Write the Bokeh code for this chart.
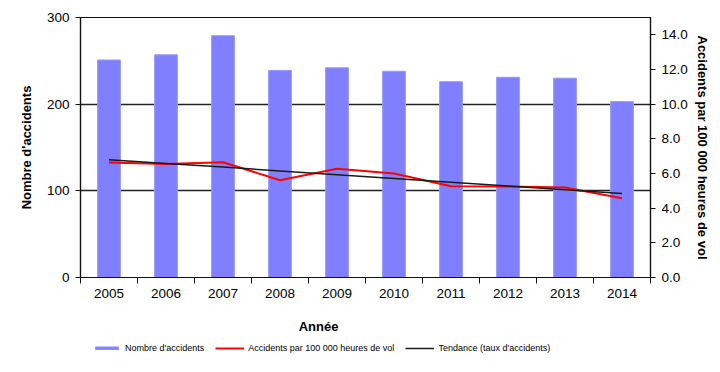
from bokeh.plotting import figure
from bokeh.layouts import column
from bokeh.models import (Range1d, LinearAxis, FixedTicker, NumeralTickFormatter,
                          Legend, LegendItem, Label, ColumnDataSource)
from bokeh.embed import file_html
from bokeh.resources import INLINE

years = [2005, 2006, 2007, 2008, 2009, 2010, 2011, 2012, 2013, 2014]
accidents = [251, 257, 279, 239, 242, 238, 226, 231, 230, 203]
rate = [6.63, 6.55, 6.65, 5.61, 6.27, 6.00, 5.27, 5.25, 5.19, 4.57]
trend = [6.80, 6.58, 6.37, 6.15, 5.93, 5.71, 5.49, 5.28, 5.06, 4.84]

left_ticks = [0, 100, 200, 300]
right_ticks = [0, 2, 4, 6, 8, 10, 12, 14]

FONT = "Liberation Sans"
BAR_FILL = "#8080ff"
BAR_LINE = "#9a9aff"
RATE_COLOR = "#ff0000"
TREND_COLOR = "#1a1a1a"

src = ColumnDataSource(dict(year=years, accidents=accidents, rate=rate, trend=trend))

p = figure(width=712, height=305, x_range=Range1d(years[0] - 0.5, years[-1] + 0.5),
           y_range=Range1d(0, 300), output_backend="svg", toolbar_location=None,
           min_border_left=80, min_border_right=62, min_border_top=17, min_border_bottom=28)
p.extra_y_ranges = {"rate": Range1d(0, 15)}

p.outline_line_color = "#111111"
p.outline_line_width = 1.2
p.xgrid.visible = False
p.ygrid.ticker = FixedTicker(ticks=left_ticks)
p.ygrid.grid_line_color = "#222222"
p.ygrid.grid_line_width = 1.4

p.vbar(x="year", top="accidents", width=0.4, source=src,
       fill_color=BAR_FILL, line_color=BAR_LINE, line_width=1)
p.line(x="year", y="rate", source=src, y_range_name="rate",
       line_color=RATE_COLOR, line_width=2)
p.line(x="year", y="trend", source=src, y_range_name="rate",
       line_color=TREND_COLOR, line_width=1.5)

# x axis
xa = p.xaxis[0]
xa.ticker = FixedTicker(ticks=years, minor_ticks=[y - 0.5 for y in years] + [years[-1] + 0.5])
xa.major_tick_line_color = None
xa.minor_tick_in = 0
xa.minor_tick_out = 6
xa.minor_tick_line_color = "#111111"
xa.axis_line_color = "#111111"
xa.axis_line_width = 1.2
xa.major_label_text_font = FONT
xa.major_label_text_font_size = "13.5px"
xa.major_label_text_color = "#000000"
xa.major_label_standoff = 5

# left axis
ya = p.yaxis[0]
ya.ticker = FixedTicker(ticks=left_ticks)
ya.axis_label = "Nombre d'accidents"
ya.axis_label_text_font = FONT
ya.axis_label_text_font_size = "13px"
ya.axis_label_text_font_style = "bold"
ya.axis_label_text_color = "#000000"
ya.axis_label_standoff = 10
ya.major_label_text_font = FONT
ya.major_label_text_font_size = "13.5px"
ya.major_label_text_color = "#000000"
ya.major_tick_in = 0
ya.major_tick_out = 5
ya.minor_tick_line_color = None
ya.axis_line_color = "#111111"
ya.axis_line_width = 1.2
ya.major_tick_line_color = "#111111"
ya.major_label_standoff = 6

# right axis
ra = LinearAxis(y_range_name="rate", ticker=FixedTicker(ticks=right_ticks),
                formatter=NumeralTickFormatter(format="0.0"))
ra.axis_label = "Accidents par 100 000 heures de vol"
ra.axis_label_text_font = FONT
ra.axis_label_text_font_size = "13px"
ra.axis_label_text_font_style = "bold"
ra.axis_label_text_color = "#000000"
ra.axis_label_standoff = 4
ra.major_label_text_font = FONT
ra.major_label_text_font_size = "13.5px"
ra.major_label_text_color = "#000000"
ra.major_tick_in = 0
ra.major_tick_out = 5
ra.minor_tick_line_color = None
ra.axis_line_color = "#111111"
ra.axis_line_width = 1.2
ra.major_tick_line_color = "#111111"
ra.major_label_standoff = 6
p.add_layout(ra, "right")

# bottom strip: x-axis title and legend (frame aligned with the chart's frame)
q = figure(width=712, height=60, x_range=Range1d(0, 1), y_range=Range1d(0, 1),
           output_backend="svg", toolbar_location=None,
           x_axis_type=None, y_axis_type=None, min_border=0)
q.outline_line_color = None
q.xgrid.visible = False
q.ygrid.visible = False

q.add_layout(Label(x=238, y=39, x_units="screen", y_units="screen", text="Année",
                   text_font=FONT, text_font_size="13px",
                   text_font_style="bold", text_align="center", text_baseline="middle",
                   text_color="#000000"))

# legend proxies (hidden renderers sharing the chart's data and styles)
lb = q.vbar(x="year", top="accidents", width=0.4, source=src,
            fill_color=BAR_FILL, line_color=BAR_LINE, line_width=1, visible=False)
lr = q.line(x="year", y="rate", source=src, line_color=RATE_COLOR, line_width=2, visible=False)
lt = q.line(x="year", y="trend", source=src, line_color=TREND_COLOR, line_width=1.5, visible=False)

legend = Legend(items=[LegendItem(label="Nombre d'accidents", renderers=[lb]),
                       LegendItem(label="Accidents par 100 000 heures de vol", renderers=[lr]),
                       LegendItem(label="Tendance (taux d'accidents)", renderers=[lt])],
                orientation="horizontal", location=(12, 10), padding=0, margin=0,
                border_line_color=None, background_fill_alpha=0,
                inactive_fill_alpha=0, click_policy="none",
                glyph_width=29, glyph_height=4, label_standoff=4, spacing=11,
                label_text_font=FONT, label_text_font_size="9px", label_height=14,
                label_text_color="#000000")
q.add_layout(legend)

open("out.html", "w").write(file_html(column(p, q), INLINE))
